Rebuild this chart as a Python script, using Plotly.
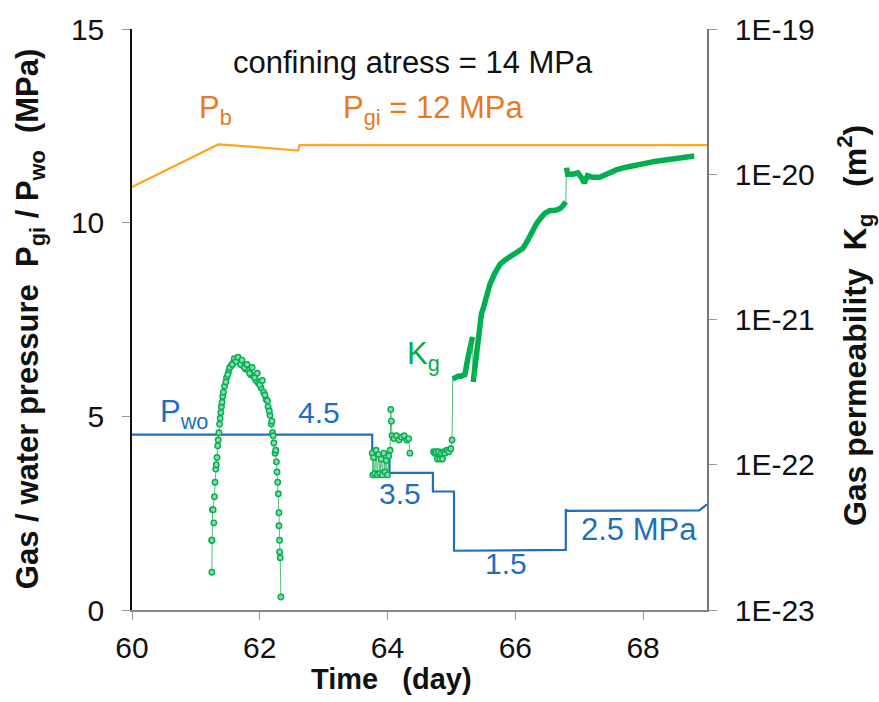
import numpy as np
import plotly.graph_objects as go

# ---------------- data ----------------
# Injection gas pressure P_gi (MPa)
pgi_day = [60.0, 60.4, 60.8, 61.1, 61.35, 61.8, 62.2, 62.6, 62.62, 63.0, 64.0, 65.0, 66.0, 67.0, 68.0, 69.0]
pgi_val = [10.92, 11.25, 11.58, 11.83, 12.02, 11.97, 11.92, 11.86, 12.0, 12.01, 12.0, 12.0, 12.01, 12.0, 12.0, 12.0]

# Outlet water pressure P_wo (MPa), stepwise
pwo_day = [60.0, 63.76, 63.76, 64.03, 64.03, 64.71, 64.71, 65.04, 65.04, 66.79, 66.79, 66.81, 68.88, 69.0]
pwo_val = [4.53, 4.53, 4.03, 4.03, 3.54, 3.54, 3.06, 3.06, 1.53, 1.55, 2.60, 2.56, 2.57, 2.73]

# Gas permeability K_g, log10(m2) -- first breakthrough hump (measured points)
kg_hump_day = [61.25, 61.25, 61.26, 61.27, 61.29, 61.30, 61.31, 61.33, 61.34, 61.36, 61.38, 61.40, 61.42,
               61.45, 61.48, 61.51, 61.55, 61.58, 61.62, 61.65, 61.68, 61.71, 61.74, 61.78, 61.82, 61.86,
               61.90, 61.94, 61.98, 62.02, 62.06, 62.10, 62.13, 62.16, 62.18, 62.20, 62.22, 62.24, 62.26,
               62.27, 62.28, 62.29, 62.30, 62.31, 62.32, 62.33]
kg_hump_log = [-22.74, -22.52, -22.31, -22.31, -22.22, -22.12, -22.03, -21.95, -21.87, -21.78, -21.68, -21.60, -21.53,
               -21.46, -21.40, -21.36, -21.32, -21.30, -21.28, -21.27, -21.29, -21.30, -21.32, -21.34, -21.35, -21.38,
               -21.39, -21.42, -21.44, -21.47, -21.50, -21.55, -21.60, -21.66, -21.72, -21.78, -21.85, -21.92, -21.98,
               -22.05, -22.12, -22.20, -22.33, -22.52, -22.64, -22.91]
# additional scattered readings inside the hump
kg_hump2_day = [61.25, 61.28, 61.32, 61.35, 61.37, 61.39, 61.41, 61.43, 61.47, 61.50, 61.53, 61.57, 61.60, 61.63,
                61.66, 61.70, 61.72, 61.76, 61.80, 61.84, 61.88, 61.92, 61.96, 62.00, 62.04, 62.08, 62.12, 62.15,
                62.19, 62.21, 62.25, 62.30, 62.31]
kg_hump2_log = [-22.52, -22.40, -22.00, -21.83, -21.72, -21.64, -21.57, -21.50, -21.43, -21.38, -21.33, -21.31, -21.27,
                -21.29, -21.26, -21.31, -21.28, -21.33, -21.31, -21.37, -21.33, -21.40, -21.37, -21.45, -21.42, -21.52,
                -21.56, -21.63, -21.70, -21.80, -21.90, -22.42, -22.60]
# second group of readings
kg_c2_day = [63.76, 63.77, 63.78, 63.80, 63.82, 63.84, 63.86, 63.88, 63.90, 63.92, 63.94, 63.96, 63.98,
             64.00, 64.02, 64.04, 64.05, 64.06, 64.07, 64.10, 64.14, 64.18, 64.22, 64.26, 64.30, 64.33, 64.35]
kg_c2_log = [-21.92, -22.07, -21.95, -22.06, -21.90, -22.07, -21.93, -22.06, -21.96, -22.07, -21.92, -22.05, -21.97,
             -22.07, -21.94, -21.90, -21.62, -21.70, -21.80, -21.82, -21.80, -21.83, -21.81, -21.80, -21.83, -21.82, -21.92]
# third group of readings
kg_c3_day = [64.72, 64.74, 64.76, 64.78, 64.80, 64.82, 64.84, 64.86, 64.88, 64.90, 64.93, 64.96, 64.99, 65.01]
kg_c3_log = [-21.91, -21.92, -21.91, -21.96, -21.91, -21.96, -21.92, -21.96, -21.91, -21.92, -21.90, -21.91, -21.89, -21.83]

# K_g continuous records (dense logging), log10(m2)
kg_a_day = [65.02, 65.05, 65.10, 65.15, 65.21, 65.26, 65.33]
kg_a_log = [-21.41, -21.40, -21.39, -21.39, -21.38, -21.26, -21.12]
kg_b_day = [65.34, 65.39, 65.44, 65.47, 65.50, 65.55, 65.60, 65.68, 65.76, 65.84, 65.91, 66.00, 66.12, 66.20,
            66.27, 66.33, 66.40, 66.46, 66.54, 66.61, 66.68, 66.72, 66.79]
kg_b_log = [-21.43, -21.23, -21.05, -20.96, -20.92, -20.83, -20.76, -20.68, -20.62, -20.59, -20.57, -20.55, -20.51, -20.45,
            -20.39, -20.34, -20.30, -20.27, -20.25, -20.25, -20.24, -20.23, -20.19]
kg_c_day = [66.80, 66.82, 66.90, 66.98, 67.03, 67.08, 67.13, 67.20, 67.32, 67.45, 67.58, 67.70, 67.84, 68.00,
            68.20, 68.46, 68.65, 68.80]
kg_c_log = [-19.955, -20.00, -20.00, -19.99, -20.02, -20.06, -20.01, -20.02, -20.02, -19.99, -19.97, -19.955, -19.94,
            -19.925, -19.91, -19.895, -19.885, -19.875]

x_ticks = [60, 62, 64, 66, 68]
y_ticks = [0, 5, 10, 15]
k_ticks = [1e-23, 1e-22, 1e-21, 1e-20, 1e-19]
k_ticktext = ["1E-23", "1E-22", "1E-21", "1E-20", "1E-19"]

# ---------------- styles ----------------
FONT = "Liberation Sans, Arial, sans-serif"
ORANGE_LINE = "#FFA51E"
ORANGE_TXT = "#E8791E"
BLUE = "#1F6FBF"
GREEN = "#00B050"
GREEN_THIN = "#4FBE78"


def k(vals):
    return list(10 ** np.array(vals))


fig = go.Figure()

fig.add_trace(go.Scatter(x=pgi_day, y=pgi_val, mode="lines",
                         line=dict(color=ORANGE_LINE, width=2.2), yaxis="y"))
fig.add_trace(go.Scatter(x=pwo_day, y=pwo_val, mode="lines",
                         line=dict(color=BLUE, width=2.2), yaxis="y"))

# thin connecting line (with breaks between groups, as in the record)
thin_day = kg_hump_day + [None] + kg_c2_day + [None] + kg_c3_day + kg_a_day + kg_b_day + kg_c_day
thin_val = k(kg_hump_log) + [None] + k(kg_c2_log) + [None] + k(kg_c3_log + kg_a_log + kg_b_log + kg_c_log)
fig.add_trace(go.Scatter(x=thin_day, y=thin_val, mode="lines", connectgaps=False,
                         line=dict(color=GREEN_THIN, width=1), yaxis="y2"))

mk = dict(symbol="circle", size=5.5, color="#8CD8A8", line=dict(color=GREEN, width=1.4))
pts_day = kg_hump_day + kg_hump2_day + kg_c2_day + kg_c3_day
pts_val = k(kg_hump_log + kg_hump2_log + kg_c2_log + kg_c3_log)
fig.add_trace(go.Scatter(x=pts_day, y=pts_val, mode="markers", marker=mk, yaxis="y2"))

seg_day = kg_a_day + [None] + kg_b_day + [None] + kg_c_day
seg_val = k(kg_a_log) + [None] + k(kg_b_log) + [None] + k(kg_c_log)
fig.add_trace(go.Scatter(x=seg_day, y=seg_val, mode="lines", connectgaps=False,
                         line=dict(color=GREEN, width=5.5), yaxis="y2"))

TICKF = dict(family=FONT, size=30, color="#111")
fig.update_layout(
    width=879, height=702, autosize=False,
    margin=dict(l=132, r=172, t=22, b=92),
    paper_bgcolor="white", plot_bgcolor="white",
    showlegend=False,
    font=dict(family=FONT),
    xaxis=dict(range=[60, 69], tickvals=x_ticks, ticks="outside", ticklen=8, tickcolor="#999",
               showline=True, linecolor="#888", linewidth=1.5, showgrid=False, zeroline=False,
               tickfont=TICKF, ticklabelstandoff=2),
    yaxis=dict(range=[0, 15], tickvals=y_ticks, ticks="outside", ticklen=8, tickcolor="#999",
               showline=True, linecolor="#111", linewidth=1.5, showgrid=False, zeroline=False,
               tickfont=TICKF, ticklabelstandoff=12),
    yaxis2=dict(type="log", range=[-23, -19], tickvals=k_ticks, ticktext=k_ticktext,
                overlaying="y", side="right", ticks="outside", ticklen=8, tickcolor="#999",
                showline=True, linecolor="#777", linewidth=1.5, showgrid=False, zeroline=False,
                tickfont=TICKF, ticklabelstandoff=12),
)


def ann(text, x, y, color, size=30, **kw):
    fig.add_annotation(text=text, x=x, y=y, xref="x", yref="y", showarrow=False,
                       xanchor="center", yanchor="middle",
                       font=dict(family=FONT, size=size, color=color), **kw)


ann("confining atress = 14 MPa", 64.40, 14.13, "#111", size=31)
ann("P<sub>b</sub>", 61.30, 12.9, ORANGE_TXT, size=31)
ann("P<sub>gi</sub> = 12 MPa", 64.72, 12.9, ORANGE_TXT, size=31)
ann("P<sub>wo</sub>", 60.81, 5.05, BLUE, size=31)
ann("4.5", 62.92, 5.09, BLUE)
ann("3.5", 64.20, 3.0, BLUE)
ann("1.5", 65.85, 1.2, BLUE)
ann("2.5 MPa", 67.94, 2.09, BLUE, size=31)
ann("K<sub>g</sub>", 64.56, 6.55, GREEN, size=31)


def title(text, x, y, angle=0, size=29):
    fig.add_annotation(text=text, x=x, y=y, xref="paper", yref="paper", textangle=angle,
                       xanchor="center", yanchor="middle", showarrow=False,
                       font=dict(family=FONT, size=size, color="#111"))


title("<b>Time   (day)</b>", 0.452, -0.119)
title("<b>Gas / water pressure  P<sub>gi</sub> / P<sub>wo</sub>  (MPa)</b>", -0.178, 0.50, -90, 31)
title("<b>Gas permeability  K<sub>g</sub>   (m<sup>2</sup>)</b>", 1.257, 0.49, -90, 32)

fig.write_html("out.html")
